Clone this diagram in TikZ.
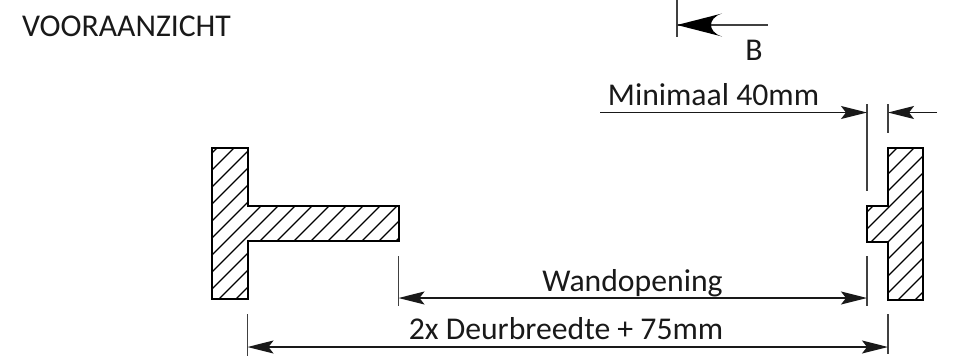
\documentclass[tikz,border=0pt]{standalone}
\usepackage{fontspec}
\setmainfont{Carlito}
\usetikzlibrary{arrows.meta}
\tikzset{
  lbl/.style={inner sep=0pt,text=black!90,font=\fontsize{31.7}{36}\selectfont},
  wall/.style={line width=2.8pt,line join=miter},
  hatchline/.style={line width=1.1pt},
  thin line/.style={line width=1.1pt,black!75},
  dimline/.style={line width=1.5pt,black!90,{Stealth[length=26pt,width=13pt,inset=5pt]}-{Stealth[length=26pt,width=13pt,inset=5pt]}},
  dimend/.style={line width=1.5pt,black!90,-{Stealth[length=26pt,width=13pt,inset=5pt]}},
  sectline/.style={line width=1.1pt,black!75},
  secthead/.style={fill=black,draw=none}
}
\begin{document}
\begin{tikzpicture}[x=1pt,y=-1pt]
\useasboundingbox (0,0) rectangle (969,360);
% hatching
\begin{scope}
\clip (212,148) -| (248,206) -| (399,241) -| (248,299) -| (212,148) -- cycle;
\foreach \c in {331,348,...,680}{\draw[hatchline] (\c,0) -- (\c-360,360);}
\end{scope}
\begin{scope}
\clip (888,148) -| (923,300) -| (888,242) -| (867,206) -| (888,148) -- cycle;
\foreach \c in {1011,1028,...,1250}{\draw[hatchline] (\c,0) -- (\c-360,360);}
\end{scope}
% outlines
\draw[wall] (212,148) -| (248,206) -| (399,241) -| (248,299) -| (212,148) -- cycle;
\draw[wall] (888,148) -| (923,300) -| (888,242) -| (867,206) -| (888,148) -- cycle;
% named points
\coordinate (ext40a) at (867,104); \coordinate (ext40b) at (867,191);
\coordinate (ext40c) at (867,256); \coordinate (ext40d) at (867,306);
\coordinate (ext75a) at (888,104); \coordinate (ext75b) at (888,133);
\coordinate (ext75c) at (888,314); \coordinate (ext75d) at (888,354);
\coordinate (extWa) at (398.5,256); \coordinate (extWb) at (398.5,306);
\coordinate (extLa) at (247.5,314); \coordinate (extLb) at (247.5,356);
\coordinate (minL) at (600,112.5); \coordinate (minA) at (867,112.5);
\coordinate (minR) at (937,112.5); \coordinate (minB) at (888,112.5);
\coordinate (wL) at (398.5,298); \coordinate (wR) at (867,298);
\coordinate (dL) at (247.5,347); \coordinate (dR) at (888,347);
\coordinate (secT) at (677,0); \coordinate (secB) at (677,37);
\coordinate (secTip) at (677,25); \coordinate (secEnd) at (768,25);
% extension lines
\foreach \p/\q in {ext40a/ext40b,ext40c/ext40d,ext75a/ext75b,ext75c/ext75d,extWa/extWb,extLa/extLb,secT/secB}
  \draw[thin line] (\p) -- (\q);
% dimensions
\draw[dimend] (minL) -- (minA);
\draw[dimend] (minR) -- (minB);
\draw[dimline] (wL) -- (wR);
\draw[dimline] (dL) -- (dR);
\draw[sectline] (secTip) -- (secEnd);
\fill[secthead] (secTip) -- (722,13.5) .. controls (714,16) and (711,21) .. (711,25)
  .. controls (711,29) and (714,34) .. (722,36.5) -- cycle;
% labels
\node[lbl] (title) at (126.5,26) {VOORAANZICHT};
\node[lbl] (b) at (754,50) {B};
\node[lbl] (min) at (713.5,94.5) {Minimaal 40mm};
\node[lbl] (wand) at (632.5,283) {Wandopening};
\node[lbl] (deur) at (566,328.5) {2x Deurbreedte + 75mm};
\end{tikzpicture}
\end{document}
